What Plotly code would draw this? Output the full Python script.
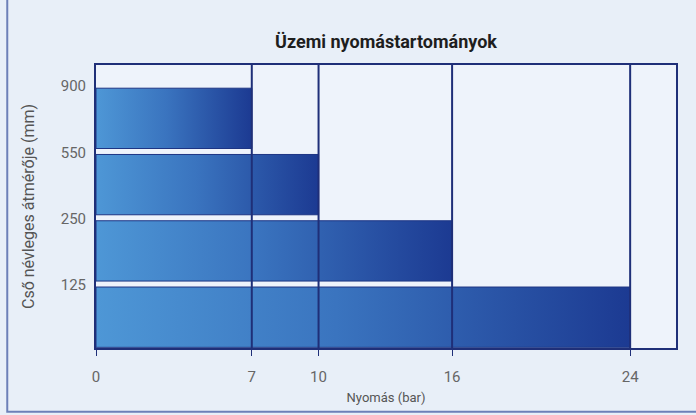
import plotly.graph_objects as go

# Data
diameters = ["125", "250", "550", "900"]      # pipe nominal diameter (mm), bottom to top
pressures = [24, 16, 10, 7]                    # max operating pressure (bar)
x_ticks = [0, 7, 10, 16, 24]
title = "Üzemi nyomástartományok"
x_title = "Nyomás (bar)"
y_title = "Cső névleges átmérője (mm)"

FONT = "Roboto, Liberation Sans, sans-serif"
NAVY = "#1f2f78"
Y_TOP = 4.27
BAR_LO, BAR_HI = 0.01, 0.92


def f(size, color, weight="normal"):
    return dict(family=FONT, size=size, color=color, weight=weight)


fig = go.Figure()
for i, (d, p) in enumerate(zip(diameters, pressures)):
    y0, y1 = i + BAR_LO, i + BAR_HI
    fig.add_trace(go.Scatter(
        x=[0, p, p, 0, 0], y=[y0, y0, y1, y1, y0],
        mode="lines", fill="toself",
        line=dict(color="#1d3584", width=1),
        fillgradient=dict(type="horizontal",
                          colorscale=[[0, "#4e97d6"], [0.45, "#3a74bf"], [1, "#1c3a92"]]),
        hoverinfo="skip", showlegend=False,
    ))

shapes = []
for t in x_ticks[1:]:
    shapes.append(dict(type="line", xref="x", yref="paper", x0=t, x1=t, y0=0, y1=1,
                       line=dict(color=NAVY, width=2), layer="above"))
# outer frame
shapes.append(dict(type="rect", xref="paper", yref="paper",
                   x0=-0.153, x1=1.04, y0=-0.225, y1=1.98,
                   line=dict(color="#6d80b8", width=2), layer="below"))

fig.update_layout(
    width=696, height=415,
    margin=dict(l=96, r=20, t=65, b=67),
    paper_bgcolor="#e8eff8",
    plot_bgcolor="#eef3fb",
    title=dict(text=title, x=0.5, xref="paper", y=1 - 42 / 415, yanchor="middle",
               font=f(18, "#1e1e1e", "bold")),
    shapes=shapes,
    xaxis=dict(range=[0, 26.06], tickvals=x_ticks, ticktext=[str(t) for t in x_ticks],
               showgrid=False, zeroline=False,
               showline=True, linecolor=NAVY, linewidth=2, mirror=True,
               ticks="outside", ticklen=6, tickcolor=NAVY, tickwidth=1,
               ticklabelstandoff=8,
               tickfont=f(15, "#666"),
               title=dict(text=x_title, font=f(13, "#555"), standoff=8)),
    yaxis=dict(range=[0, Y_TOP],
               tickvals=[i + 0.95 for i in range(len(diameters))], ticktext=diameters,
               showgrid=False, zeroline=False,
               showline=True, linecolor=NAVY, linewidth=2, mirror=True,
               ticks="", ticklabelstandoff=5,
               tickfont=f(15, "#666"),
               title=dict(text=y_title, font=f(16, "#555"), standoff=22)),
)

fig.write_html("out.html")
